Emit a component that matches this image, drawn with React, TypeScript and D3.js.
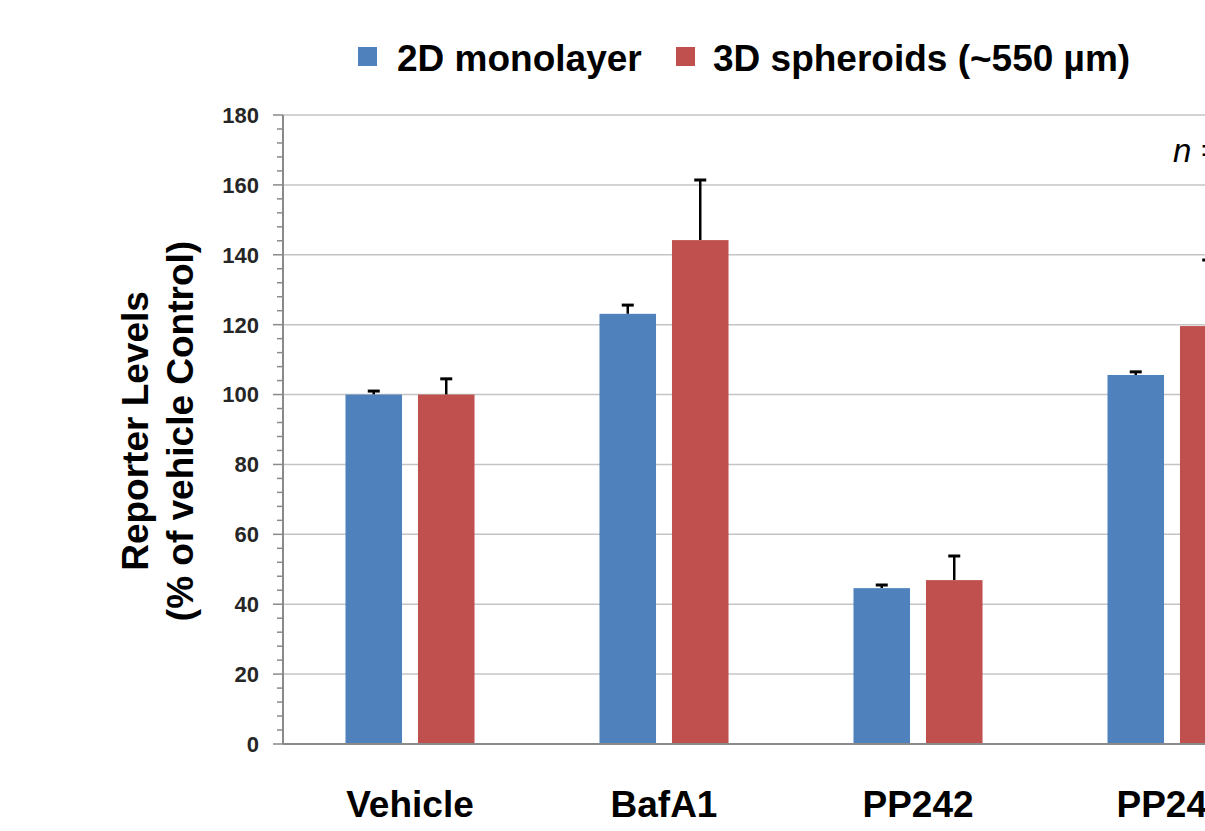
import React from 'react';
import * as d3 from 'd3';

const categories = ['Vehicle', 'BafA1', 'PP242', 'PP242'];
const series = ['2D monolayer', '3D spheroids (~550 \u00b5m)'];
const monolayer = [100, 123.1, 44.6, 105.6];
const monolayerErr = [1.0, 2.5, 0.9, 0.9];
const spheroids = [100, 144.2, 46.9, 119.6];
const spheroidsErr = [4.5, 17.2, 6.9, 18.9];
const yTicks = [0, 20, 40, 60, 80, 100, 120, 140, 160, 180];
const colors = ['#4F81BD', '#C0504D'];

const W = 1205;
const H = 831;
const font = '"Liberation Sans", Arial, Helvetica, sans-serif';

export default function App() {
  const x0 = 283;
  const y = d3.scaleLinear().domain([0, 180]).range([744, 115]);
  const x = d3
    .scaleBand<number>()
    .domain(categories.map((_, i) => i))
    .range([x0, 1299])
    .paddingInner(0.492)
    .paddingOuter(0.246);
  const sub = d3
    .scaleBand<number>()
    .domain([0, 1])
    .range([0, x.bandwidth()])
    .paddingInner(0.22);

  const values = [monolayer, spheroids];
  const errs = [monolayerErr, spheroidsErr];
  const minor = d3.range(0, 181, 4).filter(v => v % 20 !== 0);

  return (
    <svg
      width={W}
      height={H}
      style={{ position: 'absolute', left: 0, top: 0, background: '#fff' }}
      fontFamily={font}
    >
      {/* grid */}
      {yTicks.map(t => (
        <line key={'g' + t} x1={x0} x2={W} y1={y(t)} y2={y(t)} stroke="#c4c4c4" strokeWidth={1.5} />
      ))}

      {/* bars + error bars (upper only) */}
      {categories.map((c, i) =>
        series.map((s, j) => {
          const bx = (x(i) as number) + (sub(j) as number);
          const bw = sub.bandwidth();
          const v = values[j][i];
          const e = errs[j][i];
          const cx = bx + bw / 2;
          return (
            <g key={c + i + s}>
              <line x1={cx} x2={cx} y1={y(v)} y2={y(v + e)} stroke="#000" strokeWidth={2.5} />
              <line x1={cx - 6} x2={cx + 6} y1={y(v + e)} y2={y(v + e)} stroke="#000" strokeWidth={3} />
              <rect x={bx} y={y(v)} width={bw} height={y(0) - y(v)} fill={colors[j]} />
            </g>
          );
        })
      )}

      {/* axes */}
      <line x1={x0} x2={W} y1={y(0)} y2={y(0)} stroke="#8a8a8a" strokeWidth={2} />
      <line x1={x0} x2={x0} y1={y(180)} y2={y(0)} stroke="#8a8a8a" strokeWidth={2} />
      {yTicks.map(t => (
        <line key={'t' + t} x1={x0 - 10} x2={x0} y1={y(t)} y2={y(t)} stroke="#8a8a8a" strokeWidth={1.5} />
      ))}
      {minor.map(t => (
        <line key={'m' + t} x1={x0 - 6} x2={x0} y1={y(t)} y2={y(t)} stroke="#8a8a8a" strokeWidth={1.5} />
      ))}
      {yTicks.map(t => (
        <text
          key={'l' + t}
          x={259}
          y={y(t)}
          dy="0.36em"
          textAnchor="end"
          fontSize={22}
          fontWeight="bold"
          fill="#262626"
        >
          {t}
        </text>
      ))}

      {/* category labels */}
      {categories.map((c, i) => (
        <text
          key={'c' + i}
          x={(x(i) as number) + x.bandwidth() / 2}
          y={817}
          textAnchor="middle"
          fontSize={37}
          fontWeight="bold"
          fill="#000"
        >
          {c}
        </text>
      ))}

      {/* y title */}
      <text
        transform="translate(148, 431) rotate(-90)"
        textAnchor="middle"
        fontSize={37}
        fontWeight="bold"
        fill="#000"
      >
        Reporter Levels
      </text>
      <text
        transform="translate(193, 431) rotate(-90)"
        textAnchor="middle"
        fontSize={37}
        fontWeight="bold"
        fill="#000"
      >
        (% of vehicle Control)
      </text>

      {/* legend */}
      <rect x={358} y={47} width={19} height={19} fill={colors[0]} />
      <text x={397} y={71} fontSize={37} fontWeight="bold" fill="#000">
        {series[0]}
      </text>
      <rect x={676} y={47} width={19} height={19} fill={colors[1]} />
      <text x={713} y={71} fontSize={37} fontWeight="bold" fill="#000">
        {series[1]}
      </text>

      <text x={1173} y={162} fontSize={33} fontStyle="italic" fill="#000">
        n = 3
      </text>
    </svg>
  );
}
